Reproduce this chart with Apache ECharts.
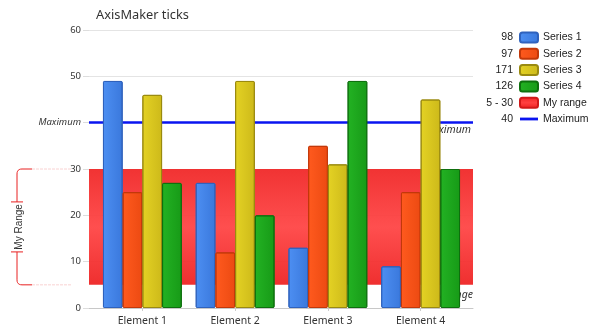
<!DOCTYPE html>
<html><head><meta charset="utf-8">
<script src="https://cdn.jsdelivr.net/npm/echarts@6/dist/echarts.min.js"></script>
<style>html,body{margin:0;padding:0;background:#fff}#c{width:597px;height:334px}</style>
</head><body><div id="c"></div>
<script>
const categories = ['Element 1', 'Element 2', 'Element 3', 'Element 4'];
const seriesNames = ['Series 1', 'Series 2', 'Series 3', 'Series 4'];
const series1 = [49, 27, 13, 9];
const series2 = [25, 12, 35, 25];
const series3 = [46, 49, 31, 45];
const series4 = [27, 20, 49, 30];
const rangeLow = 5;
const rangeHigh = 30;
const maximumValue = 40;
const yMin = 0, yMax = 60, yStep = 10;
const titleText = 'AxisMaker ticks';
const rangeName = 'My range';
const maxName = 'Maximum';
const bracketText = 'My Range';

const allSeries = [series1, series2, series3, series4];
const palette = [
  ['#4d8ff2', '#3a78dc', '#2f62bd'],
  ['#ff5a1e', '#ec4a12', '#c2380a'],
  ['#e4d224', '#cdb91a', '#9a8a10'],
  ['#23b223', '#179a17', '#0e700e']
];
function hgrad(c) {
  return new echarts.graphic.LinearGradient(0, 0, 1, 0, [{offset: 0, color: c[0]}, {offset: 1, color: c[1]}]);
}
const bandGrad = new echarts.graphic.LinearGradient(0, 0, 0, 1, [
  {offset: 0, color: '#f02222'}, {offset: 0.5, color: '#ff4040'}, {offset: 1, color: '#ee1e1e'}
]);
const blue = '#0a14f0';

const chart = echarts.init(document.getElementById('c'), null, {renderer: 'canvas'});
const gridTop = 30, gridBottom = 26;
const barSeries = allSeries.map((d, i) => ({
  name: seriesNames[i], type: 'bar', xAxisIndex: 1, yAxisIndex: 1, z: 3,
  data: d, barGap: '0%', barCategoryGap: '15%',
  itemStyle: {color: hgrad(palette[i]), borderColor: palette[i][2], borderWidth: 1, borderRadius: 1}
}));

const legendLeft = 519, legendFirstY = 37.5, legendRow = 16.3, legendItemH = 10, legendTextH = 12;
const legendValues = allSeries.map(a => String(a.reduce((s, v) => s + v, 0)))
  .concat([rangeLow + ' - ' + rangeHigh, String(maximumValue)]);

chart.setOption({
  animation: false,
  title: {text: titleText, left: 96, top: 9, padding: 0,
    textStyle: {fontFamily: 'Noto Sans', fontSize: 12.8, fontWeight: 'normal', color: '#333'}},
  legend: {
    orient: 'vertical', left: legendLeft, top: legendFirstY - legendTextH / 2, padding: 0,
    itemWidth: 18, itemHeight: legendItemH, itemGap: legendRow - legendTextH,
    textStyle: {fontFamily: 'Liberation Sans', fontSize: 10.5, color: '#222', lineHeight: legendTextH},
    data: seriesNames.map(n => ({name: n})).concat([
      {name: rangeName},
      {name: maxName, icon: 'path://M0,0 M18,10 M0,3.6 L18,3.6 L18,6.4 L0,6.4 Z', itemStyle: {color: blue, borderWidth: 0}}
    ])
  },
  grid: [
    {left: 89, right: 124, top: gridTop, bottom: gridBottom},
    {left: 96, right: 130, top: gridTop, bottom: gridBottom}
  ],
  xAxis: [
    {type: 'category', gridIndex: 0, data: categories, axisLabel: {show: false}, axisTick: {show: false},
     axisLine: {lineStyle: {color: '#c8c8c8'}}},
    {type: 'category', gridIndex: 1, data: categories, axisLine: {show: false},
     axisTick: {show: true, alignWithLabel: true, length: 3, lineStyle: {color: '#ccc'}},
     axisLabel: {fontFamily: 'Noto Sans', fontSize: 10.5, color: '#333', margin: 8}}
  ],
  yAxis: [
    {type: 'value', gridIndex: 0, min: yMin, max: yMax, interval: yStep,
     axisLine: {show: false}, axisTick: {show: true, length: 6, lineStyle: {color: '#ddd'}},
     splitLine: {lineStyle: {color: '#e4e4e4'}},
     axisLabel: {fontFamily: 'Noto Sans', fontSize: 9.5, color: '#333', margin: 8,
       formatter: v => v === maximumValue ? '{i|' + maxName + '}' : String(v),
       rich: {i: {fontStyle: 'italic', fontFamily: 'Noto Sans', fontSize: 9.5, color: '#333'}}}},
    {type: 'value', gridIndex: 1, min: yMin, max: yMax, interval: yStep, show: false, splitLine: {show: false}}
  ],
  series: barSeries.concat([
    {name: rangeName, type: 'bar', xAxisIndex: 0, yAxisIndex: 0, z: 1, data: [],
     itemStyle: {color: bandGrad, borderColor: '#d01818', borderWidth: 1, borderRadius: 1},
     markArea: {silent: true, z: 1,
       itemStyle: {color: bandGrad, opacity: 0.92},
       label: {show: true, position: 'insideBottomRight', offset: [0, 16], distance: 0, formatter: rangeName,
         fontFamily: 'Noto Sans', fontStyle: 'italic', fontSize: 10.5, color: '#333'},
       data: [[{yAxis: rangeLow}, {yAxis: rangeHigh}]]}},
    {name: maxName, type: 'line', xAxisIndex: 0, yAxisIndex: 0, z: 2, data: [], symbol: 'none',
     itemStyle: {color: blue}, lineStyle: {color: blue, width: 3},
     markLine: {silent: true, z: 2, symbol: 'none',
       lineStyle: {color: blue, width: 2.5, type: 'solid'},
       label: {show: true, position: 'insideEndBottom', distance: 2, formatter: maxName,
         fontFamily: 'Noto Sans', fontStyle: 'italic', fontSize: 10.5, color: '#333'},
       data: [{yAxis: maximumValue}]}}
  ])
});

// Annotation: legend values and the range bracket on the left
const yTop = chart.convertToPixel({yAxisIndex: 0}, rangeHigh);
const yBot = chart.convertToPixel({yAxisIndex: 0}, rangeLow);
const yMid = (yTop + yBot) / 2;
const bx = 17, r = 5, capHalf = 6, gapHalf = 25, armEnd = 32, guideEnd = 72;
const red = '#e82020';
const graphics = [];
legendValues.forEach((t, i) => {
  graphics.push({type: 'text', silent: true, x: legendLeft - 6, y: legendFirstY + i * legendRow,
    style: {text: t, align: 'right', verticalAlign: 'middle', font: '10.5px "Liberation Sans"', fill: '#222'}});
});
function corner(x0, y0, cx, cy, x1, y1) {
  const pts = [];
  for (let k = 0; k <= 6; k++) {
    const t = k / 6, u = 1 - t;
    pts.push([u * u * x0 + 2 * u * t * cx + t * t * x1, u * u * y0 + 2 * u * t * cy + t * t * y1]);
  }
  return pts;
}
const topPts = [[armEnd, yTop]].concat(corner(bx + r, yTop, bx, yTop, bx, yTop + r)).concat([[bx, yMid - gapHalf]]);
const botPts = [[bx, yMid + gapHalf]].concat(corner(bx, yBot - r, bx, yBot, bx + r, yBot)).concat([[armEnd, yBot]]);
graphics.push({type: 'polyline', silent: true, shape: {points: topPts}, style: {fill: null, stroke: red, lineWidth: 1}});
graphics.push({type: 'polyline', silent: true, shape: {points: botPts}, style: {fill: null, stroke: red, lineWidth: 1}});
[yMid - gapHalf, yMid + gapHalf].forEach(y => graphics.push({type: 'line', silent: true,
  shape: {x1: bx - capHalf, y1: y, x2: bx + capHalf, y2: y}, style: {stroke: red, lineWidth: 1}}));
[yTop, yBot].forEach(y => graphics.push({type: 'line', silent: true,
  shape: {x1: armEnd, y1: y, x2: guideEnd, y2: y}, style: {stroke: '#f9d2d2', lineWidth: 1, lineDash: [3, 1]}}));
graphics.push({type: 'text', silent: true, x: bx + 2, y: yMid, rotation: Math.PI / 2,
  style: {text: bracketText, align: 'center', verticalAlign: 'middle', font: '10px "Liberation Sans"', fill: '#333'}});
chart.setOption({graphic: graphics});
</script>
</body></html>
